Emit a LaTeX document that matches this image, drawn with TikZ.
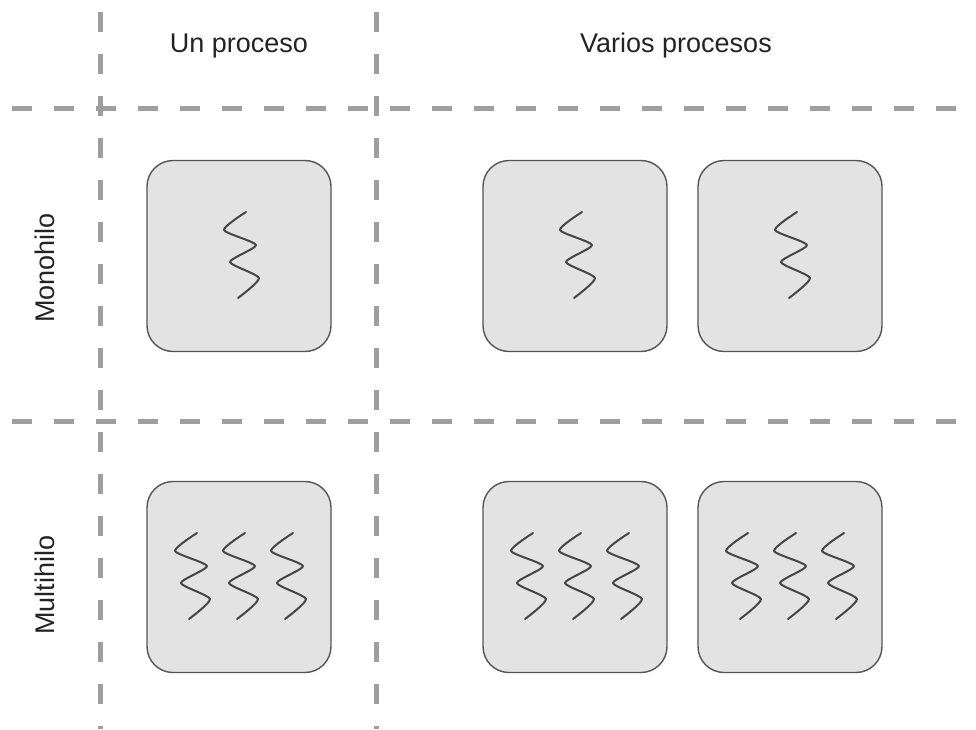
\documentclass[tikz,border=0pt]{standalone}
\usepackage{fontspec}
\setmainfont{Liberation Sans}
\definecolor{gridgray}{RGB}{158,158,158}
\definecolor{boxfill}{RGB}{227,227,227}
\definecolor{boxedge}{RGB}{85,85,85}
\definecolor{threadcol}{RGB}{70,70,70}
\definecolor{labelcol}{RGB}{35,35,35}
\tikzset{
  gridline/.style={draw=gridgray, line width=5pt, dash pattern=on 20pt off 22pt},
  procbox/.style={draw=boxedge, fill=boxfill, line width=1.4pt, rounded corners=26pt,
    minimum width=184pt, minimum height=191pt, inner sep=0pt},
  threadline/.style={draw=threadcol, line width=2pt, line cap=round, line join=round},
  heading/.style={text=labelcol, font=\fontsize{27}{30}\selectfont},
  thread/.pic={\draw[threadline] plot[smooth, tension=0.38] coordinates
    {(6,-44) (-16,-26) (16,-11) (-10,6) (19,22) (-2,42)};}
}
\begin{document}
\begin{tikzpicture}[x=1pt, y=-1pt]
  \useasboundingbox (0,0) rectangle (976,729);

  % grid of dashed separators
  \coordinate (h1a) at (12,108);  \coordinate (h1b) at (976,108);
  \coordinate (h2a) at (12,421);  \coordinate (h2b) at (976,421);
  \coordinate (v1a) at (100,12);  \coordinate (v1b) at (100,729);
  \coordinate (v2a) at (376,12);  \coordinate (v2b) at (376,729);
  \draw[gridline] (h1a) -- (h1b);
  \draw[gridline] (h2a) -- (h2b);
  \draw[gridline] (v1a) -- (v1b);
  \draw[gridline] (v2a) -- (v2b);

  % column and row headings
  \node[heading] (colone) at (239,46) {Un proceso};
  \node[heading] (colmany) at (676,46) {Varios procesos};
  \node[heading, rotate=90] (rowmono) at (45,268) {Monohilo};
  \node[heading, rotate=90] (rowmulti) at (45,585) {Multihilo};

  % single-threaded processes
  \node[procbox] (mono1) at (239,256) {};
  \node[procbox] (mono2) at (575,256) {};
  \node[procbox] (mono3) at (790,256) {};
  \foreach \b in {mono1,mono2,mono3}
    \pic at ([xshift=1pt]\b.center) {thread};

  % multi-threaded processes
  \node[procbox] (multi1) at (239,577) {};
  \node[procbox] (multi2) at (575,577) {};
  \node[procbox] (multi3) at (790,577) {};
  \foreach \b in {multi1,multi2,multi3}
    \foreach \dx in {-48,0,48}
      \pic at ([xshift=\dx pt]\b.center) {thread};
\end{tikzpicture}
\end{document}
